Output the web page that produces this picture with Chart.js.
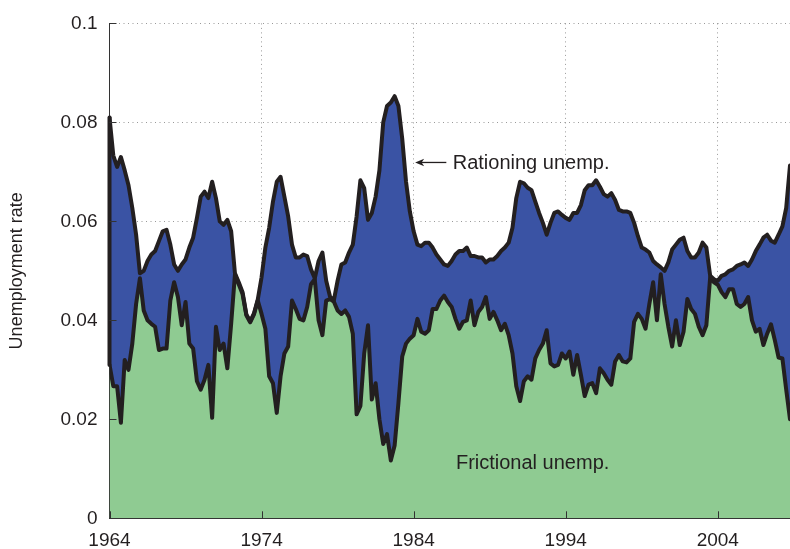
<!DOCTYPE html>
<html>
<head>
<meta charset="utf-8">
<title>Rationing and frictional unemployment</title>
<script src="https://cdn.jsdelivr.net/npm/chart.js@4.4.1/dist/chart.umd.min.js"></script>
<style>
  html, body { margin: 0; padding: 0; background: #fff; }
  #wrap { width: 790px; height: 549px; position: relative; }
</style>
</head>
<body>
<div id="wrap"><canvas id="unempChart"></canvas></div>
<script>
// quarterly series, 1964Q1 - 2008Q4
const startYear = 1964;

// upper edge of the blue band
const upperRate = [
  0.081, 0.0733, 0.071, 0.073,     0.0703, 0.0673, 0.0627, 0.0573,
  0.0495, 0.050, 0.052, 0.0533,    0.054, 0.056, 0.058, 0.0583,
  0.0553, 0.0513, 0.050, 0.0513,   0.0523, 0.0547, 0.0567, 0.0607,
  0.065, 0.066, 0.0647, 0.068,     0.0647, 0.060, 0.0593, 0.0603,
  0.058, 0.0495, 0.0477, 0.0457,   0.0412, 0.0398, 0.0414, 0.0442,
  0.0487, 0.0547, 0.0587, 0.064,   0.068, 0.069, 0.065, 0.061,
  0.0553, 0.0527, 0.0527, 0.0533,  0.053, 0.0503, 0.0485, 0.052,
  0.0537, 0.048, 0.0448, 0.044,    0.048, 0.0513, 0.0517, 0.0537,
  0.0553, 0.061, 0.0683, 0.0667,   0.0603, 0.0617, 0.065, 0.0703,
  0.080, 0.0833, 0.084, 0.0853,    0.0833, 0.0767, 0.068, 0.062,
  0.058, 0.0553, 0.055, 0.0557,    0.0557, 0.0547, 0.0533, 0.0523,
  0.0513, 0.051, 0.052, 0.0533,    0.054, 0.054, 0.0547, 0.053,
  0.053, 0.0527, 0.0527, 0.0517,   0.0523, 0.0523, 0.053, 0.054,
  0.0547, 0.0557, 0.0587, 0.0647,  0.068, 0.0677, 0.0668, 0.0663,
  0.064, 0.0617, 0.0597, 0.0573,   0.0597, 0.0617, 0.062, 0.0613,
  0.0607, 0.0603, 0.0617, 0.0617,  0.0633, 0.0663, 0.0673, 0.0673,
  0.0683, 0.067, 0.0655, 0.065,    0.0657, 0.0643, 0.0623, 0.062,
  0.062, 0.0617, 0.0597, 0.057,    0.0547, 0.0543, 0.0537, 0.052,
  0.0513, 0.0507, 0.050, 0.0517,   0.0543, 0.0553, 0.0563, 0.0567,
  0.054, 0.0527, 0.0527, 0.0537,   0.0557, 0.0547, 0.049, 0.0483,
  0.048, 0.049, 0.0493, 0.050,     0.0503, 0.051, 0.0513, 0.0517,
  0.051, 0.0523, 0.054, 0.0553,    0.0567, 0.0573, 0.0561, 0.0557,
  0.0573, 0.059, 0.0627, 0.0713
];

// lower edge of the blue band = top of the green area
const lowerRate = [
  0.031, 0.0267, 0.0267, 0.0193,   0.032, 0.030, 0.0353, 0.0433,
  0.0485, 0.042, 0.040, 0.0393,    0.0387, 0.034, 0.0343, 0.0343,
  0.044, 0.0477, 0.0447, 0.039,    0.0437, 0.0353, 0.0343, 0.0277,
  0.026, 0.028, 0.031, 0.0203,     0.0387, 0.034, 0.0353, 0.0303,
  0.0393, 0.0493, 0.0473, 0.0453,  0.041, 0.0396, 0.0412, 0.044,
  0.0413, 0.0383, 0.0287, 0.0273,  0.0213, 0.0287, 0.0333, 0.0347,
  0.044, 0.0423, 0.0403, 0.040,    0.0427, 0.0473, 0.0483, 0.040,
  0.037, 0.044, 0.0443, 0.0438,    0.042, 0.0413, 0.042, 0.0407,
  0.0373, 0.021, 0.0227, 0.0333,   0.039, 0.024, 0.0273, 0.020,
  0.015, 0.017, 0.0117, 0.0147,    0.0233, 0.0327, 0.0353, 0.0363,
  0.037, 0.0403, 0.0377, 0.0373,   0.038, 0.0423, 0.0423, 0.044,
  0.045, 0.0437, 0.0427, 0.0403,   0.0383, 0.0397, 0.040, 0.044,
  0.039, 0.0417, 0.0427, 0.0447,   0.0403, 0.0417, 0.040, 0.038,
  0.0393, 0.037, 0.0333, 0.0267,   0.0237, 0.0277, 0.0287, 0.028,
  0.0323, 0.034, 0.0353, 0.038,    0.0313, 0.0307, 0.031, 0.0333,
  0.0323, 0.0337, 0.029, 0.033,    0.029, 0.0247, 0.027, 0.0273,
  0.0253, 0.0303, 0.0293, 0.028,   0.027, 0.0317, 0.033, 0.0317,
  0.0315, 0.0323, 0.0397, 0.0413,  0.0403, 0.0383, 0.0433, 0.0477,
  0.040, 0.0493, 0.0433, 0.0387,   0.0347, 0.040, 0.035, 0.0377,
  0.0443, 0.0423, 0.0413, 0.0387,  0.037, 0.039, 0.0487, 0.0477,
  0.0472, 0.0457, 0.0447, 0.0463,  0.0463, 0.0433, 0.0427, 0.0433,
  0.0447, 0.040, 0.0377, 0.0383,   0.035, 0.0373, 0.0392, 0.036,
  0.0325, 0.0323, 0.026, 0.020
];

const quarters = upperRate.map((_, i) => startYear + i / 4);

const xTicks = [1964, 1974, 1984, 1994, 2004];
const yTicks = [0, 0.02, 0.04, 0.06, 0.08, 0.1];
const yTickLabels = ['0', '0.02', '0.04', '0.06', '0.08', '0.1'];

const FONT = "'Liberation Sans', Arial, Helvetica, sans-serif";
const LINE = '#231f20';
const BLUE = '#3a53a4';
const GREEN = '#8fcb92';

// axis title, arrow + labels, inward ticks (matlab style)
const overlayPlugin = {
    id: 'overlay',
    afterDatasetsDraw(chart) {
        const { ctx, scales: { x, y } } = chart;
        const px = x.getPixelForValue(quarters[0]);
        ctx.save();
        ctx.strokeStyle = LINE;
        ctx.lineWidth = 4;
        ctx.lineCap = 'round';
        ctx.beginPath();
        ctx.moveTo(px, y.getPixelForValue(lowerRate[0]));
        ctx.lineTo(px, y.getPixelForValue(upperRate[0]));
        ctx.stroke();
        ctx.restore();
    },
    afterDraw(chart) {
        const { ctx, chartArea, scales: { x, y } } = chart;
        ctx.save();

        // ticks pointing inwards
        ctx.strokeStyle = '#333';
        ctx.lineWidth = 1;
        ctx.beginPath();
        yTicks.forEach(v => {
            const py = Math.round(y.getPixelForValue(v)) + 0.5;
            ctx.moveTo(chartArea.left, py);
            ctx.lineTo(chartArea.left + 7, py);
        });
        xTicks.forEach(v => {
            const px = Math.round(x.getPixelForValue(v)) + 0.5;
            ctx.moveTo(px, chartArea.bottom);
            ctx.lineTo(px, chartArea.bottom - 7);
        });
        ctx.stroke();

        // y axis title
        ctx.fillStyle = '#231f20';
        ctx.font = '18px ' + FONT;
        ctx.textAlign = 'center';
        ctx.textBaseline = 'middle';
        ctx.save();
        ctx.translate(17, (chartArea.top + chartArea.bottom) / 2);
        ctx.rotate(-Math.PI / 2);
        ctx.fillText('Unemployment rate', 0, 0);
        ctx.restore();

        // "Rationing unemp." with arrow
        const ay = y.getPixelForValue(0.0719);
        const ax0 = x.getPixelForValue(1984.1);
        const ax1 = x.getPixelForValue(1986.15);
        ctx.strokeStyle = LINE;
        ctx.lineWidth = 1.3;
        ctx.beginPath();
        ctx.moveTo(ax1, ay);
        ctx.lineTo(ax0 + 4, ay);
        ctx.stroke();
        ctx.fillStyle = LINE;
        ctx.beginPath();
        ctx.moveTo(ax0, ay);
        ctx.lineTo(ax0 + 9, ay - 3.8);
        ctx.lineTo(ax0 + 6.5, ay);
        ctx.lineTo(ax0 + 9, ay + 3.8);
        ctx.closePath();
        ctx.fill();

        ctx.font = '20px ' + FONT;
        ctx.textAlign = 'left';
        ctx.textBaseline = 'alphabetic';
        ctx.fillText('Rationing unemp.', x.getPixelForValue(1986.57), y.getPixelForValue(0.0705));
        ctx.fillText('Frictional unemp.', x.getPixelForValue(1986.78), y.getPixelForValue(0.0099));

        ctx.restore();
    }
};

document.addEventListener('DOMContentLoaded', () => {
    const ctx = document.getElementById('unempChart');

    new Chart(ctx, {
        type: 'line',
        data: {
            datasets: [{
                label: 'Rationing unemp.',
                data: quarters.map((q, i) => ({ x: q, y: upperRate[i] })),
                borderColor: LINE,
                backgroundColor: BLUE,
                borderWidth: 4,
                fill: { target: '+1', above: BLUE, below: BLUE },
                pointRadius: 0,
                tension: 0,
                borderJoinStyle: 'round',
                borderCapStyle: 'round'
            }, {
                label: 'Frictional unemp.',
                data: quarters.map((q, i) => ({ x: q, y: lowerRate[i] })),
                borderColor: LINE,
                backgroundColor: GREEN,
                borderWidth: 4,
                fill: { target: 'origin', above: GREEN },
                pointRadius: 0,
                tension: 0,
                borderJoinStyle: 'round',
                borderCapStyle: 'round'
            }]
        },
        options: {
            responsive: true,
            maintainAspectRatio: false,
            animation: false,
            devicePixelRatio: 1,
            layout: {
                padding: { top: 18.3, right: 0, bottom: 0, left: 0 }
            },
            plugins: {
                legend: { display: false },
                tooltip: { enabled: false },
                filler: { drawTime: 'beforeDatasetsDraw' }
            },
            scales: {
                x: {
                    type: 'linear',
                    min: 1964,
                    max: 2008.75,
                    z: 1,
                    afterBuildTicks: (scale) => {
                        scale.ticks = xTicks.map(v => ({ value: v }));
                    },
                    afterFit: (scale) => { scale.height = 30.7; },
                    grid: {
                        color: 'rgba(70, 70, 70, 0.55)',
                        lineWidth: 1,
                        drawTicks: false
                    },
                    border: { display: true, color: '#333', width: 1, dash: [1, 3.5] },
                    ticks: {
                        autoSkip: false,
                        maxRotation: 0,
                        padding: 11,
                        color: '#231f20',
                        font: { family: FONT, size: 19 },
                        callback: (value) => String(value)
                    }
                },
                y: {
                    min: 0,
                    max: 0.1,
                    z: 1,
                    afterBuildTicks: (scale) => {
                        scale.ticks = yTicks.map(v => ({ value: v }));
                    },
                    afterFit: (scale) => { scale.width = 109.5; },
                    grid: {
                        color: 'rgba(70, 70, 70, 0.55)',
                        lineWidth: 1,
                        drawTicks: false
                    },
                    border: { display: true, color: '#333', width: 1, dash: [1, 3.5] },
                    ticks: {
                        padding: 12,
                        color: '#231f20',
                        font: { family: FONT, size: 19 },
                        callback: (value, index) => yTickLabels[index]
                    }
                }
            }
        },
        plugins: [overlayPlugin]
    });
});
</script>
</body>
</html>
